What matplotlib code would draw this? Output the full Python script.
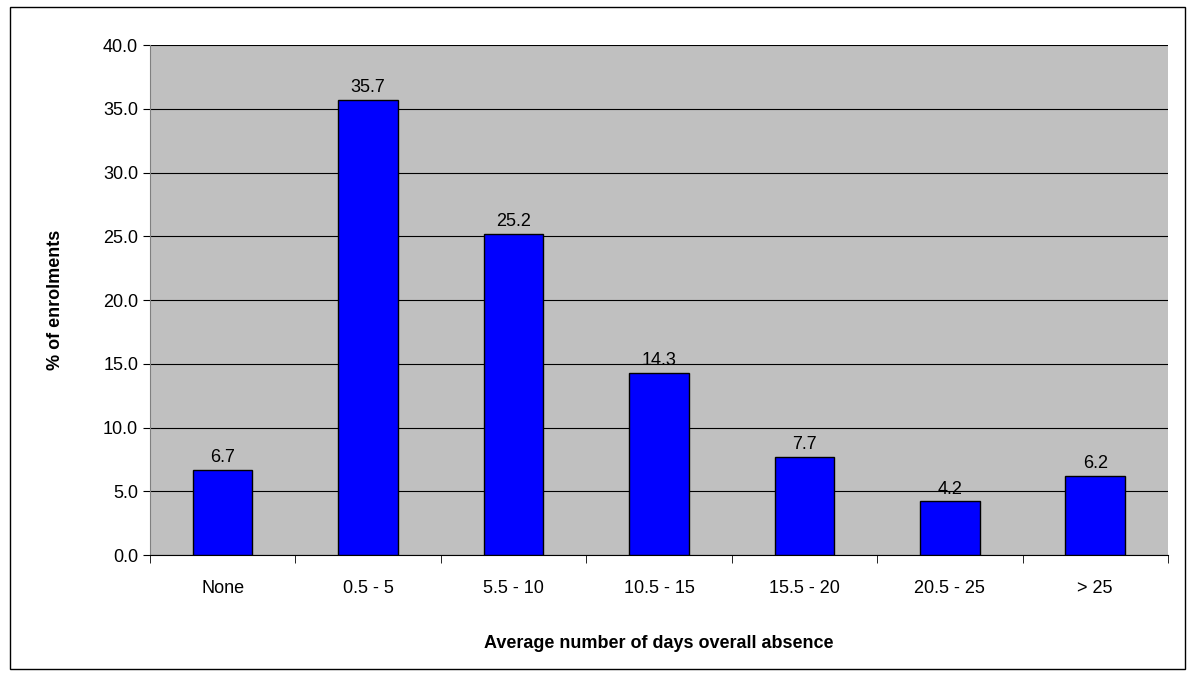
import matplotlib.pyplot as plt
import numpy as np

plt.rcParams['font.family'] = ['Liberation Sans', 'DejaVu Sans']

categories = ['None', '0.5 - 5', '5.5 - 10', '10.5 - 15', '15.5 - 20', '20.5 - 25', '> 25']
values = [6.7, 35.7, 25.2, 14.3, 7.7, 4.2, 6.2]

fig = plt.figure(figsize=(11.93, 6.79), dpi=100)
# outer chart frame
fig.patches.append(plt.Rectangle((0.008, 0.015), 0.985, 0.975, transform=fig.transFigure,
                                 fill=False, edgecolor='black', linewidth=1))
ax = fig.add_axes([0.1257, 0.1826, 0.8533, 0.7511])
ax.set_facecolor('#C0C0C0')

x = np.arange(len(categories))
ax.bar(x, values, width=0.41, color='#0000FF', edgecolor='black', linewidth=1, zorder=3)
for xi, v in zip(x, values):
    ax.text(xi, v + 0.3, f'{v:.1f}', ha='center', va='bottom', fontsize=13)

ax.set_xlim(-0.5, len(categories) - 0.5)
ax.set_ylim(0, 40)
ax.set_yticks(np.arange(0, 40.1, 5))
ax.set_yticklabels([f'{t:.1f}' for t in np.arange(0, 40.1, 5)], fontsize=13)
ax.set_xticks(x)
ax.set_xticklabels(categories, fontsize=13)
ax.set_xticks(np.arange(-0.5, len(categories), 1), minor=True)
ax.tick_params(axis='x', which='major', length=0, pad=18)
ax.tick_params(axis='x', which='minor', length=6, direction='out')
ax.tick_params(axis='y', length=5, direction='out')
ax.yaxis.grid(True, color='black', linewidth=0.8, zorder=0)
ax.set_axisbelow(True)
for s in ['top', 'right']:
    ax.spines[s].set_visible(False)
ax.spines['left'].set_color('#808080')
ax.spines['bottom'].set_color('black')

ax.set_xlabel('Average number of days overall absence', fontsize=13, fontweight='bold', labelpad=27)
ax.set_ylabel('% of enrolments', fontsize=13, fontweight='bold', labelpad=28)

fig.savefig('out.png', dpi=100)
